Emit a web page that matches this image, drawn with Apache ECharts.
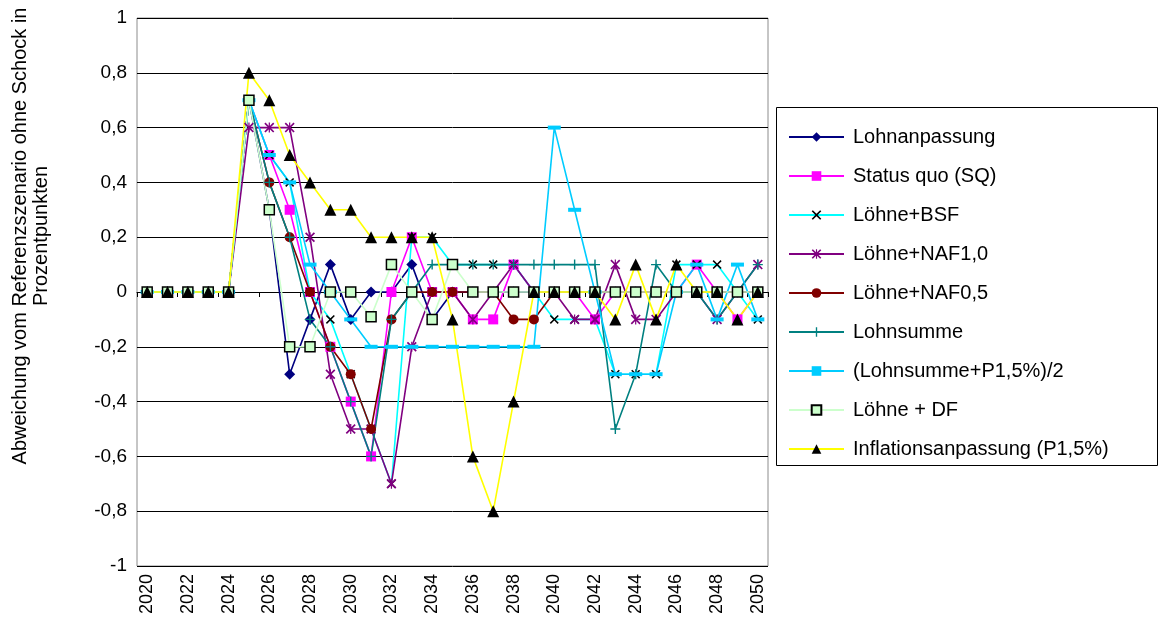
<!DOCTYPE html>
<html>
<head>
<meta charset="utf-8">
<script src="https://cdn.jsdelivr.net/npm/echarts@6/dist/echarts.min.js"></script>
<style>html,body{margin:0;padding:0;background:#fff;}#c{width:1161px;height:635px;}</style>
</head>
<body>
<div id="c"></div>
<script>
const years = [2020,2021,2022,2023,2024,2025,2026,2027,2028,2029,2030,2031,2032,2033,2034,2035,2036,2037,2038,2039,2040,2041,2042,2043,2044,2045,2046,2047,2048,2049,2050];

const lohnanpassung = [0,0,0,0,0,0.7,0.3,-0.3,-0.1,0.1,-0.1,0,0,0.1,-0.1,0,0,0,0,0,0,0,0,0,0,0,0,0,0,0,0];
const statusQuo     = [0,0,0,0,0,0.7,0.5,0.3,0,-0.2,-0.4,-0.6,0,0.2,0,0,-0.1,-0.1,0.1,0,0,0,-0.1,0,0,0,0,0.1,0,-0.1,0];
const loehneBSF     = [0,0,0,0,0,0.7,0.5,0.4,0,-0.1,-0.3,-0.5,-0.7,0.2,0.2,0.1,0.1,0.1,0.1,0,-0.1,-0.1,-0.1,-0.3,-0.3,-0.3,0.1,0.1,0.1,0,-0.1];
const loehneNAF10   = [0,0,0,0,0,0.6,0.6,0.6,0.2,-0.3,-0.5,-0.5,-0.7,-0.2,0,0,-0.1,0,0.1,0,0,-0.1,-0.1,0.1,-0.1,-0.1,0,0,-0.1,0,0.1];
const loehneNAF05   = [0,0,0,0,0,0.7,0.4,0.2,0,-0.2,-0.3,-0.5,-0.1,0,0,0,0,0,-0.1,-0.1,0,0,0,0,0,0,0,0,0,0,0];
const lohnsumme     = [0,0,0,0,0,0.7,0.4,0.2,-0.1,-0.2,-0.4,-0.6,-0.1,0,0.1,0.1,0.1,0.1,0.1,0.1,0.1,0.1,0.1,-0.5,-0.3,0.1,0,0,-0.1,0,0.1];
const lohnsummeP15  = [0,0,0,0,0,0.7,0.5,0.4,0.1,0,-0.1,-0.2,-0.2,-0.2,-0.2,-0.2,-0.2,-0.2,-0.2,-0.2,0.6,0.3,0,-0.3,-0.3,-0.3,0,0.1,-0.1,0.1,-0.1];
const loehneDF      = [0,0,0,0,0,0.7,0.3,-0.2,-0.2,0,0,-0.09,0.1,0,-0.1,0.1,0,0,0,0,0,0,0,0,0,0,0,0,0,0,0];
const inflation     = [0,0,0,0,0,0.8,0.7,0.5,0.4,0.3,0.3,0.2,0.2,0.2,0.2,-0.1,-0.6,-0.8,-0.4,0,0,0,0,-0.1,0.1,-0.1,0.1,0,0,-0.1,0];

const names = ['Lohnanpassung','Status quo (SQ)','Löhne+BSF','Löhne+NAF1,0','Löhne+NAF0,5','Lohnsumme','(Lohnsumme+P1,5%)/2','Löhne + DF','Inflationsanpassung (P1,5%)'];
const yTitle = ['Abweichung vom Referenzszenario ohne Schock in', 'Prozentpunkten'];

const X_PATH = 'path://M0,1.2L1.2,0L5,3.8L8.8,0L10,1.2L6.2,5L10,8.8L8.8,10L5,6.2L1.2,10L0,8.8L3.8,5Z';
const STAR_PATH = 'path://M0,1.2L1.2,0L5,3.8L8.8,0L10,1.2L6.2,5L10,8.8L8.8,10L5,6.2L1.2,10L0,8.8L3.8,5Z M4.4,0L5.6,0L5.6,10L4.4,10Z';
const PLUS_PATH = 'path://M4.3,0L5.7,0L5.7,4.3L10,4.3L10,5.7L5.7,5.7L5.7,10L4.3,10L4.3,5.7L0,5.7L0,4.3L4.3,4.3Z';
const DASH_PATH = 'path://M0,0L10,0L10,3L0,3Z';

function mk(name, data, lineColor, symbol, size, fill, border, bw) {
  return {
    name: name, type: 'line', data: data, xAxisIndex: 0,
    symbol: symbol, symbolSize: size, showSymbol: true,
    lineStyle: {color: lineColor, width: 1.6},
    itemStyle: {color: fill, borderColor: border || fill, borderWidth: bw || 0},
    emphasis: {disabled: true},
    animation: false
  };
}

const chart = echarts.init(document.getElementById('c'));
const font = 'Liberation Sans, Arial, sans-serif';
const FS = 19;
chart.setOption({
  animation: false,
  backgroundColor: '#fff',
  textStyle: {fontFamily: font},
  grid: {left: 137, right: 393, top: 18, bottom: 69, show: true, borderColor: '#8c8c8c', borderWidth: 1, backgroundColor: '#fff'},
  graphic: [
    {type: 'rect', left: 776, top: 107, silent: true, z: 0,
     shape: {width: 381, height: 358}, style: {fill: '#fff', stroke: '#000', lineWidth: 1}},
    {type: 'text', x: 20, y: 236, rotation: Math.PI / 2, silent: true,
     style: {text: yTitle[0], fontSize: 20, fontFamily: font, fill: '#000', align: 'center', verticalAlign: 'middle'}},
    {type: 'text', x: 41, y: 236, rotation: Math.PI / 2, silent: true,
     style: {text: yTitle[1], fontSize: 20, fontFamily: font, fill: '#000', align: 'center', verticalAlign: 'middle'}}
  ],
  legend: {
    orient: 'vertical', left: 788, top: 127, padding: 0, itemGap: 19,
    itemWidth: 55, itemHeight: 12, z: 10,
    textStyle: {fontSize: 20, lineHeight: 20, color: '#000', fontFamily: font, padding: [0,0,0,4]},
    data: names
  },
  xAxis: [
    {type: 'category', data: years, position: 'bottom', boundaryGap: true,
     axisLine: {onZero: true, lineStyle: {color: '#000', width: 1}},
     axisTick: {show: true, length: 5, lineStyle: {color: '#000'}},
     axisLabel: {show: false}, splitLine: {show: false}},
    {type: 'category', data: years, position: 'bottom', boundaryGap: true,
     axisLine: {show: false, onZero: false}, axisTick: {show: false},
     axisLabel: {show: true, interval: 1, rotate: 90, fontSize: 18, color: '#000', margin: 8, fontFamily: font},
     splitLine: {show: false}}
  ],
  yAxis: {
    type: 'value', min: -1, max: 1, interval: 0.2,
    axisLine: {show: false}, axisTick: {show: false},
    axisLabel: {fontSize: FS, color: '#000', margin: 10, fontFamily: font,
      formatter: function (v) { const r = Math.round(v * 10) / 10; return String(r).replace('.', ','); }},
    splitLine: {show: true, lineStyle: {color: '#000', width: 1}}
  },
  series: [
    mk(names[0], lohnanpassung, '#000080', 'diamond', 11, '#000080'),
    mk(names[1], statusQuo, '#FF00FF', 'rect', 10, '#FF00FF'),
    mk(names[2], loehneBSF, '#00FFFF', X_PATH, 9, '#000000'),
    mk(names[3], loehneNAF10, '#800080', STAR_PATH, 10, '#800080'),
    mk(names[4], loehneNAF05, '#800000', 'circle', 10, '#800000'),
    mk(names[5], lohnsumme, '#008080', PLUS_PATH, 10, '#008080'),
    mk(names[6], lohnsummeP15, '#00CCFF', DASH_PATH, [13, 4], '#00CCFF'),
    mk(names[7], loehneDF, '#CCFFCC', 'rect', 10, '#CCFFCC', '#000000', 1.5),
    mk(names[8], inflation, '#FFFF00', 'triangle', 12, '#000000')
  ]
});
</script>
</body>
</html>
